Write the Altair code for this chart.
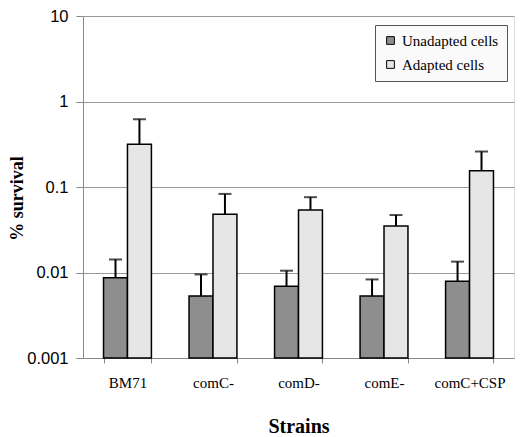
import altair as alt
import pandas as pd

strains = ["BM71", "comC-", "comD-", "comE-", "comC+CSP"]
conditions = ["Unadapted cells", "Adapted cells"]
unadapted = [0.0087, 0.0053, 0.0069, 0.0053, 0.0079]
unadapted_err = [0.0142, 0.0095, 0.0105, 0.0083, 0.0134]
adapted = [0.316, 0.048, 0.054, 0.035, 0.155]
adapted_err = [0.62, 0.083, 0.076, 0.047, 0.26]

rows = []
for i, s in enumerate(strains):
    rows.append({"strain": s, "cond": conditions[0], "val": unadapted[i], "err": unadapted_err[i]})
    rows.append({"strain": s, "cond": conditions[1], "val": adapted[i], "err": adapted_err[i]})
df = pd.DataFrame(rows)

x = alt.X("strain:N", sort=strains, title="Strains",
          scale=alt.Scale(paddingInner=0.44, paddingOuter=0.24),
          axis=alt.Axis(labelAngle=0, tickBand="extent", labelFont="Liberation Serif",
                        labelFontSize=15, labelColor="black", labelPadding=12,
                        titleFont="Liberation Serif", titleFontSize=20, titleFontWeight="bold",
                        titleColor="black", titlePadding=26, domainColor="#888",
                        tickColor="#888", tickSize=5))
xo = alt.XOffset("cond:N", sort=conditions)
yscale = alt.Scale(type="log", domain=[0.001, 10])

bars = alt.Chart(df).mark_bar(stroke="black", strokeWidth=1.5).encode(
    x=x, xOffset=xo,
    y=alt.Y("val:Q", scale=yscale, title="% survival",
            axis=alt.Axis(values=[0.001, 0.01, 0.1, 1, 10], format="~g",
                          labelFont="Liberation Sans", labelFontSize=16.5, labelColor="black",
                          labelPadding=8, tickColor="#888", tickSize=7, domainColor="#888",
                          gridColor="#999", titleFont="Liberation Serif", titleFontSize=18,
                          titleFontWeight="bold", titleColor="black",
                          titleAngle=270, titleX=-61, titleY=182, titleAlign="center",
                          titleBaseline="alphabetic")),
    y2=alt.datum(0.001),
    fill=alt.Fill("cond:N", sort=conditions,
                  scale=alt.Scale(domain=conditions, range=["#8e8e8e", "#e6e6e6"]),
                  legend=alt.Legend(title=None, orient="none", legendX=292, legendY=9,
                                    labelFont="Liberation Serif", labelFontSize=15,
                                    labelColor="black", symbolType="square", symbolSize=60,
                                    symbolStrokeColor="black", symbolStrokeWidth=1,
                                    strokeColor="#555", fillColor="#fafafa", padding=8,
                                    rowPadding=8, labelOffset=4)),
)

err = alt.Chart(df).mark_rule(color="black", strokeWidth=2).encode(
    x=x, xOffset=xo, y=alt.Y("val:Q", scale=yscale), y2="err:Q")
caps = alt.Chart(df).mark_tick(color="black", thickness=2, size=13, orient="horizontal").encode(
    x=x, xOffset=xo, y=alt.Y("err:Q", scale=yscale))

chart = alt.layer(bars, err, caps).properties(
    width=431, height=342,
    padding={"left": 75, "top": 8, "right": 4, "bottom": 79},
    autosize=alt.AutoSizeParams(type="none"),
).configure_view(stroke="#888", fill="#f0f0f0").configure(background="white")

chart.save("out.html", embed_options={"renderer": "svg", "actions": False})
